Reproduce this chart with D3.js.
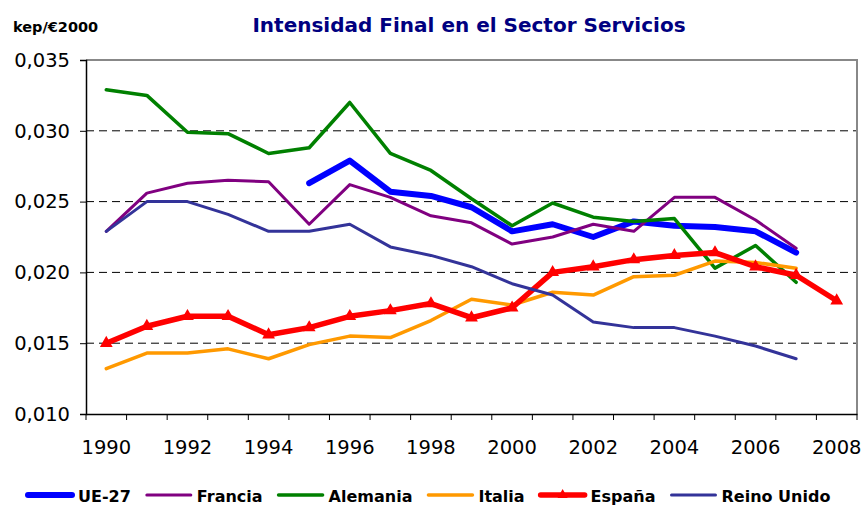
<!DOCTYPE html>
<html>
<head>
<meta charset="utf-8">
<script src="https://cdn.jsdelivr.net/npm/d3@7/dist/d3.min.js"></script>
<style>
  body { margin: 0; background: #fff; }
  text { font-family: "DejaVu Sans", Verdana, sans-serif; fill: #000; }
</style>
</head>
<body>
<svg id="chart"></svg>
<script>
// datos
const years = [1990, 1991, 1992, 1993, 1994, 1995, 1996, 1997, 1998, 1999,
               2000, 2001, 2002, 2003, 2004, 2005, 2006, 2007, 2008];
const labelYears = [1990, 1992, 1994, 1996, 1998, 2000, 2002, 2004, 2006, 2008];
const yTicks = [0.010, 0.015, 0.020, 0.025, 0.030, 0.035];

const ue27     = [null, null, null, null, null, 0.0263, 0.0279, 0.0257, 0.0254, 0.0246, 0.0229, 0.0234, 0.0225, 0.0236, 0.0233, 0.0232, 0.0229, 0.0214, null];
const francia  = [0.0229, 0.0256, 0.0263, 0.0265, 0.0264, 0.0234, 0.0262, 0.0253, 0.0240, 0.0235, 0.0220, 0.0225, 0.0234, 0.0229, 0.0253, 0.0253, 0.0237, 0.0217, null];
const alemania = [0.0329, 0.0325, 0.0299, 0.0298, 0.0284, 0.0288, 0.0320, 0.0284, 0.0272, 0.0252, 0.0233, 0.0249, 0.0239, 0.0236, 0.0238, 0.0203, 0.0219, 0.0193, null];
const italia   = [0.0132, 0.0143, 0.0143, 0.0146, 0.0139, 0.0149, 0.0155, 0.0154, 0.0166, 0.0181, 0.0177, 0.0186, 0.0184, 0.0197, 0.0198, 0.0208, 0.0207, 0.0203, null];
const espana   = [0.0150, 0.0162, 0.0169, 0.0169, 0.0156, 0.0161, 0.0169, 0.0173, 0.0178, 0.0168, 0.0175, 0.0200, 0.0204, 0.0209, 0.0212, 0.0214, 0.0204, 0.0198, 0.0180];
const reino    = [0.0229, 0.0250, 0.0250, 0.0241, 0.0229, 0.0229, 0.0234, 0.0218, 0.0212, 0.0204, 0.0192, 0.0184, 0.0165, 0.0161, 0.0161, 0.0155, 0.0148, 0.0139, null];

const series = [
    {name: "UE-27",       values: ue27,     color: "#0000ff", width: 6},
    {name: "Francia",     values: francia,  color: "#800080", width: 3},
    {name: "Alemania",    values: alemania, color: "#008000", width: 3.5},
    {name: "Italia",      values: italia,   color: "#ff9900", width: 3.5},
    {name: "España",      values: espana,   color: "#ff0000", width: 5.5, marker: true},
    {name: "Reino Unido", values: reino,    color: "#333399", width: 3}
];

const width = 863, height = 506;
const mLeft = 86, mRight = 857, mTop = 60, mBottom = 414;

const svg = d3.select("#chart")
    .attr("width", width)
    .attr("height", height);

const x = d3.scaleBand().domain(years).range([mLeft, mRight]);
const y = d3.scaleLinear().domain([0.010, 0.035]).range([mBottom, mTop]);

const es = d3.formatLocale({decimal: ",", thousands: ".", grouping: [3], currency: ["", "€"]});
const fmt = es.format(".3f");

// titulo
svg.append("text")
    .attr("x", 469)
    .attr("y", 32)
    .attr("text-anchor", "middle")
    .style("font-size", "20px")
    .style("font-weight", "bold")
    .style("fill", "#000080")
    .text("Intensidad Final en el Sector Servicios");

svg.append("text")
    .attr("x", 13)
    .attr("y", 32)
    .style("font-size", "14.5px")
    .style("font-weight", "bold")
    .text("kep/€2000");

// rejilla
svg.append("g")
    .selectAll("line")
    .data(yTicks.filter(d => d > 0.0101 && d < 0.0349))
    .enter().append("line")
    .attr("x1", mLeft).attr("x2", mRight)
    .attr("y1", d => y(d)).attr("y2", d => y(d))
    .attr("stroke", "#000")
    .attr("stroke-width", 1)
    .attr("stroke-dasharray", "8,5");

// marco gris arriba y derecha
svg.append("path")
    .attr("d", `M${mLeft},${mTop}H${mRight}V${mBottom}`)
    .attr("fill", "none")
    .attr("stroke", "#888")
    .attr("stroke-width", 2);

// eje y
const yAxis = svg.append("g")
    .attr("transform", `translate(${mLeft},0)`)
    .call(d3.axisLeft(y).tickValues(yTicks).tickFormat(fmt).tickSize(6).tickPadding(10));
yAxis.select(".domain").attr("stroke", "#000").attr("stroke-width", 1.5);
yAxis.selectAll(".tick line").attr("stroke", "#000");
yAxis.selectAll("text").style("font-size", "19.5px").style("font-family", "'DejaVu Sans', sans-serif");

// eje x: marcas entre categorias, etiquetas cada dos años
const xAxis = svg.append("g")
    .attr("transform", `translate(0,${mBottom})`)
    .call(d3.axisBottom(x).tickValues(labelYears).tickSize(0).tickPadding(26));
xAxis.select(".domain").attr("stroke", "#000").attr("stroke-width", 1.5);
xAxis.selectAll("text").style("font-size", "19.5px").style("font-family", "'DejaVu Sans', sans-serif");
xAxis.selectAll(".sep")
    .data(years.map(d => x(d)).concat([mRight]))
    .enter().append("line")
    .attr("class", "sep")
    .attr("x1", d => d).attr("x2", d => d)
    .attr("y1", 0).attr("y2", 6)
    .attr("stroke", "#000");

// lineas
const line = d3.line()
    .defined(d => d.v != null)
    .x(d => x(d.year) + x.bandwidth() / 2)
    .y(d => y(d.v));

const tri = d3.symbol().type(d3.symbolTriangle).size(45);

series.forEach(function (s) {
    const pts = years.map((yr, i) => ({year: yr, v: s.values[i]}));
    svg.append("path")
        .datum(pts)
        .attr("fill", "none")
        .attr("stroke", s.color)
        .attr("stroke-width", s.width)
        .attr("stroke-linejoin", "round")
        .attr("stroke-linecap", "round")
        .attr("d", line);
    if (s.marker) {
        svg.append("g").selectAll("path")
            .data(pts.filter(d => d.v != null))
            .enter().append("path")
            .attr("d", tri)
            .attr("transform", d => `translate(${x(d.year) + x.bandwidth() / 2},${y(d.v)})`)
            .attr("fill", s.color)
            .attr("stroke", s.color)
            .attr("stroke-width", 1.5);
    }
});

// leyenda
const legend = svg.append("g").attr("transform", "translate(28,495)");
let lx = 0;
series.forEach(function (s) {
    const g = legend.append("g").attr("transform", `translate(${lx},0)`);
    g.append("line")
        .attr("x1", 0).attr("x2", 44)
        .attr("stroke", s.color)
        .attr("stroke-width", s.width)
        .attr("stroke-linecap", "round");
    if (s.marker) {
        g.append("path").attr("d", tri).attr("transform", "translate(22,0)").attr("fill", s.color);
    }
    const t = g.append("text")
        .attr("x", 50)
        .attr("y", 7)
        .style("font-size", "16px")
        .style("font-weight", "bold")
        .text(s.name);
    lx += 50 + t.node().getComputedTextLength() + 16;
});
</script>
</body>
</html>
